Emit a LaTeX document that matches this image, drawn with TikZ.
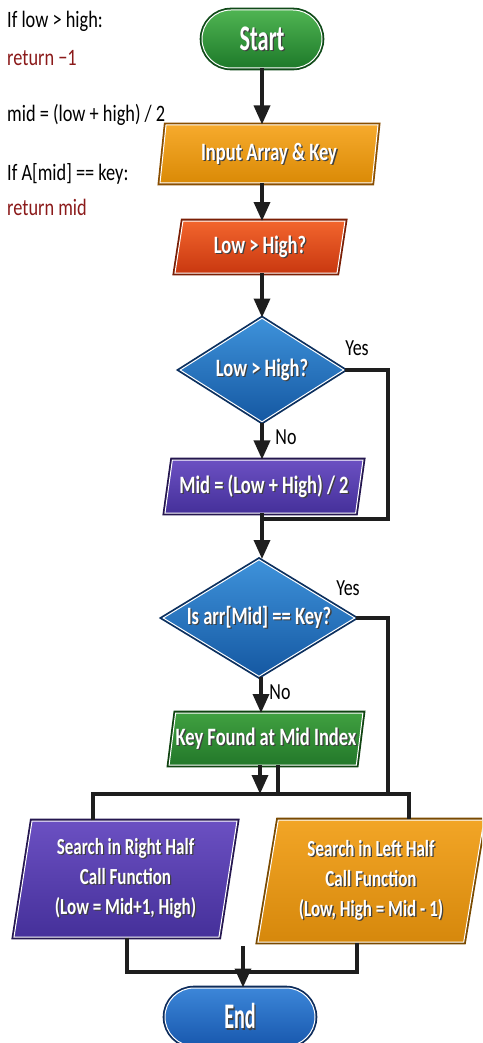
\documentclass[tikz,border=0pt]{standalone}
\usepackage{fontspec}
\usetikzlibrary{shapes.geometric,arrows.meta}
\newfontfamily\boxfont{Carlito}[FakeStretch=0.74]
\newfontfamily\bigfont{Carlito}[FakeStretch=0.62]
\newfontfamily\endfont{Carlito}[FakeStretch=0.56]
\newfontfamily\notefont{Carlito}[FakeStretch=0.78]
% white label with a soft dark drop shadow
\newcommand\shd[1]{\makebox[0pt][l]{\raisebox{-1.3pt}{\hspace{1.3pt}\textcolor{black!75}{#1}}}#1}
\definecolor{noteRed}{HTML}{8B1A1A}
\definecolor{lineInk}{HTML}{1E1E1E}
\definecolor{grnTop}{HTML}{4FB452}\definecolor{grnBot}{HTML}{1E7A2A}\definecolor{grnRim}{HTML}{0F4A18}
\definecolor{orgTop}{HTML}{F6AA2C}\definecolor{orgBot}{HTML}{DA8A06}\definecolor{orgRim}{HTML}{8A4E00}
\definecolor{redTop}{HTML}{F2652D}\definecolor{redBot}{HTML}{C93810}\definecolor{redRim}{HTML}{7A1E05}
\definecolor{bluTop}{HTML}{3E92DA}\definecolor{bluBot}{HTML}{1558A2}\definecolor{bluRim}{HTML}{0B2F5E}
\definecolor{purTop}{HTML}{6B50C2}\definecolor{purBot}{HTML}{45309A}\definecolor{purRim}{HTML}{24164F}
\definecolor{kfTop}{HTML}{40A040}\definecolor{kfBot}{HTML}{23782A}\definecolor{kfRim}{HTML}{0F4310}
\definecolor{lhTop}{HTML}{F2A526}\definecolor{lhBot}{HTML}{D6880C}\definecolor{lhRim}{HTML}{7A4A00}
\definecolor{endTop}{HTML}{3C86D8}\definecolor{endBot}{HTML}{1858AE}\definecolor{endRim}{HTML}{0D2C5C}
\tikzset{
  card/.style={top color=#1Top, bottom color=#1Bot, draw=white, line width=1pt,
     preaction={draw=#1Rim, line width=4.6pt}, text=white, inner sep=0pt, align=center},
  pill/.style={rounded corners=29pt, minimum height=58pt, font={\bigfont\bfseries\fontsize{36}{40}\selectfont}},
  para/.style={trapezium, trapezium stretches body, trapezium left angle=#1, trapezium right angle=180-#1,
     font={\boxfont\bfseries\fontsize{25}{28}\selectfont}},
  para/.default=74,
  bigpara/.style={para=#1, font={\boxfont\bfseries\fontsize{23}{30}\selectfont}},
  decision/.style={diamond, aspect=1.6, font={\boxfont\bfseries\fontsize{25}{28}\selectfont}},
  flow/.style={draw=lineInk, line width=3.4pt, line join=miter},
  arr/.style={flow, -{Triangle[length=19pt,width=16pt]}},
  note/.style={anchor=base west, inner sep=0pt, font={\notefont\fontsize{23.5}{26}\selectfont}},
  tag/.style={inner sep=0pt, font={\notefont\fontsize{23}{26}\selectfont}}
}
\begin{document}
\begin{tikzpicture}[x=1pt,y=-1pt]
\useasboundingbox (0,0) rectangle (482,1043);
\clip (0,0) rectangle (482,1043);

% side notes
\node[note] (n1) at (7,28) {If low > high:};
\node[note, text=noteRed] (n2) at (7,66) {return −1};
\node[note] (n3) at (7,122) {mid = (low + high) / 2};
\node[note] (n4) at (7,181) {If A[mid] == key:};
\node[note, text=noteRed] (n5) at (7,215) {return mid};

% flow nodes
\node[card=grn, pill, minimum width=120pt] (start) at (262,39) {\shd{Start}};
\node[card=org, para=75, minimum width=218pt, minimum height=58pt] (input) at (269,154) {\shd{Input Array \& Key}};
\node[card=red, para=71, minimum width=170pt, minimum height=52pt] (lowhigh) at (260,247) {\shd{Low > High?}};
\node[card=blu, decision, minimum width=164pt, minimum height=104pt] (d1) at (262,370) {\shd{Low > High?}};
\node[card=pur, para=73, minimum width=198pt, minimum height=53pt] (mid) at (264,486.5) {\shd{Mid = (Low + High) / 2}};
\node[card=blu, decision, minimum width=192pt, minimum height=117pt] (d2) at (259,618) {\shd{Is arr[Mid] == Key?}};
\node[card=kf, para=74, minimum width=192pt, minimum height=52pt] (found) at (266,739) {\shd{Key Found at Mid Index}};
\node[card=pur, bigpara=77.5, minimum width=223pt, minimum height=116pt] (right) at (125.5,879)
  {\shd{Search in Right Half}\\ \shd{Call Function}\\ \shd{(Low = Mid+1, High)}};
\node[card=lh, bigpara=76, minimum width=226pt, minimum height=122pt] (left) at (371,881)
  {\shd{Search in Left Half}\\ \shd{Call Function}\\ \shd{(Low, High = Mid - 1)}};
\node[card=end, pill, minimum width=150pt, font={\endfont\bfseries\fontsize{36}{40}\selectfont}] (end) at (240,1017) {\shd{End}};

% junction points of the connectors
\coordinate (yes1) at (388,519);
\coordinate (merge1) at (262,519);
\coordinate (yes2) at (388,794);
\coordinate (busL) at (93,794);
\coordinate (busR) at (409,794);
\coordinate (tap) at (278,794);
\coordinate (retL) at (127,972);
\coordinate (retR) at (357,972);
\coordinate (endIn) at (243,946);

% connectors
\draw[arr] (start.south) -- (start.south |- input.north);
\draw[arr] (262,183) -- (262,221);
\draw[arr] (262,273) -- (d1.north);
\draw[arr] (d1.south) -- (d1.south |- mid.north);
\draw[flow] (d1.east) -| (yes1) -- (merge1);
\draw[flow] (262,513) -- (merge1);
\draw[arr] (merge1) -- (merge1 |- d2.north);
\draw[arr] (d2.south -| 261,0) -- (261,713);
\draw[flow] (d2.east) -| (yes2);
\draw[arr] (260,765) -- (260,794);
\draw[flow] (278,765) -- (tap);
\draw[flow] (busL |- right.north) -- (busL) -- (busR) -- (busR |- left.north);
\draw[flow] (retL |- right.south) -- (retL) -- (retR) -- (retR |- left.south);
\draw[arr] (endIn) -- (endIn |- end.north);

% branch labels
\node[tag] (y1) at (357,348) {Yes};
\node[tag] (no1) at (286,437) {No};
\node[tag] (y2) at (348,588) {Yes};
\node[tag] (no2) at (280,692) {No};
\end{tikzpicture}
\end{document}
